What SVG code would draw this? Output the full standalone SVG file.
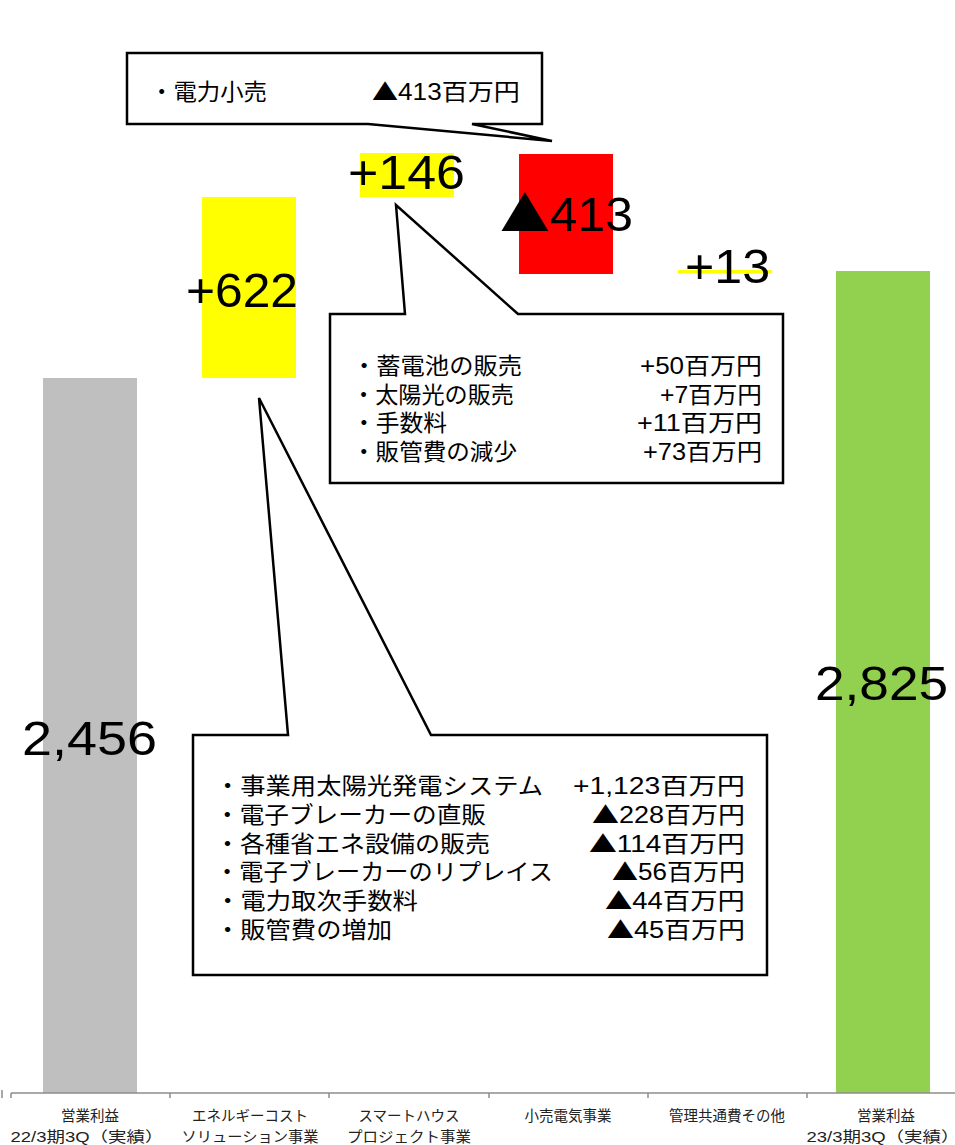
<svg xmlns="http://www.w3.org/2000/svg" width="955" height="1145" viewBox="0 0 955 1145">
<style>
.num{font-family:"Liberation Sans","DejaVu Sans",sans-serif;font-size:48px;fill:#000}
.jp{font-family:"Liberation Sans","Noto Sans CJK JP",sans-serif;font-size:23px;fill:#000}
.tri{font-family:"Noto Sans CJK JP",sans-serif}
.ax{font-family:"Liberation Sans","Noto Sans CJK JP",sans-serif;font-size:14.5px;fill:#222;text-anchor:middle}
.call{fill:#fff;stroke:#000;stroke-width:2.5;stroke-linejoin:miter}
.end{text-anchor:end}
</style>
<rect width="955" height="1145" fill="#fff"/>
<g id="bar-start"><rect x="43" y="378" width="94" height="715" fill="#bfbfbf"/><text class="num" x="22" y="755" textLength="135" lengthAdjust="spacingAndGlyphs">2,456</text></g>
<g id="bar-energy"><rect x="202" y="197" width="94" height="181" fill="#ffff00"/><text class="num" x="186" y="307" textLength="112" lengthAdjust="spacingAndGlyphs">+622</text></g>
<g id="bar-smart"><rect x="360" y="153" width="94" height="44" fill="#ffff00"/><text class="num" x="348" y="189" textLength="117" lengthAdjust="spacingAndGlyphs">+146</text></g>
<g id="bar-retail"><rect x="519" y="154" width="94" height="120" fill="#ff0000"/><text class="num" x="500" y="231" textLength="133" lengthAdjust="spacingAndGlyphs"><tspan class="tri">▲</tspan>413</text></g>
<g id="bar-common"><rect x="678" y="270" width="94" height="3.5" fill="#ffff00"/><text class="num" x="685" y="283" textLength="85" lengthAdjust="spacingAndGlyphs">+13</text></g>
<g id="bar-end"><rect x="836" y="271" width="94" height="822" fill="#92d050"/><text class="num" x="815" y="700" textLength="133" lengthAdjust="spacingAndGlyphs">2,825</text></g>
<g id="callout-retail">
<polygon class="call" points="127,53 542,53 542,124 472,124 552,141 368,124 127,124"/>
<text class="jp" x="150" y="100" textLength="117" lengthAdjust="spacingAndGlyphs">・電力小売</text>
<text class="jp end" x="520" y="100" textLength="148" lengthAdjust="spacingAndGlyphs"><tspan class="tri">▲</tspan>413百万円</text>
</g>
<g id="callout-smart">
<polygon class="call" points="330,314 405,314 396,205 518,314 783,314 783,483 330,483"/>
<text class="jp" x="352" y="374" textLength="170" lengthAdjust="spacingAndGlyphs">・蓄電池の販売</text><text class="jp end" x="762" y="374" textLength="122" lengthAdjust="spacingAndGlyphs">+50百万円</text>
<text class="jp" x="352" y="403" textLength="162" lengthAdjust="spacingAndGlyphs">・太陽光の販売</text><text class="jp end" x="762" y="403" textLength="102" lengthAdjust="spacingAndGlyphs">+7百万円</text>
<text class="jp" x="352" y="431" textLength="95" lengthAdjust="spacingAndGlyphs">・手数料</text><text class="jp end" x="762" y="431" textLength="125" lengthAdjust="spacingAndGlyphs">+11百万円</text>
<text class="jp" x="352" y="460" textLength="165" lengthAdjust="spacingAndGlyphs">・販管費の減少</text><text class="jp end" x="762" y="460" textLength="119" lengthAdjust="spacingAndGlyphs">+73百万円</text>
</g>
<g id="callout-energy">
<polygon class="call" points="193,735 288,735 259,398 431,735 767,735 767,975 193,975"/>
<text class="jp" x="215" y="794" textLength="328" lengthAdjust="spacingAndGlyphs">・事業用太陽光発電システム</text><text class="jp end" x="745" y="794" textLength="172" lengthAdjust="spacingAndGlyphs">+1,123百万円</text>
<text class="jp" x="215" y="823" textLength="271" lengthAdjust="spacingAndGlyphs">・電子ブレーカーの直販</text><text class="jp end" x="745" y="823" textLength="153" lengthAdjust="spacingAndGlyphs"><tspan class="tri">▲</tspan>228百万円</text>
<text class="jp" x="215" y="852" textLength="275" lengthAdjust="spacingAndGlyphs">・各種省エネ設備の販売</text><text class="jp end" x="745" y="852" textLength="156" lengthAdjust="spacingAndGlyphs"><tspan class="tri">▲</tspan>114百万円</text>
<text class="jp" x="215" y="880" textLength="338" lengthAdjust="spacingAndGlyphs">・電子ブレーカーのリプレイス</text><text class="jp end" x="745" y="880" textLength="133" lengthAdjust="spacingAndGlyphs"><tspan class="tri">▲</tspan>56百万円</text>
<text class="jp" x="215" y="909" textLength="203" lengthAdjust="spacingAndGlyphs">・電力取次手数料</text><text class="jp end" x="745" y="909" textLength="140" lengthAdjust="spacingAndGlyphs"><tspan class="tri">▲</tspan>44百万円</text>
<text class="jp" x="215" y="938" textLength="177" lengthAdjust="spacingAndGlyphs">・販管費の増加</text><text class="jp end" x="745" y="938" textLength="138" lengthAdjust="spacingAndGlyphs"><tspan class="tri">▲</tspan>45百万円</text>
</g>
<g id="axis" stroke="#8c8c8c" stroke-width="1.5" fill="none">
<line x1="11" y1="1093" x2="955" y2="1093"/>
<line x1="2" y1="1090" x2="2" y2="1098"/>
<line x1="11" y1="1093" x2="11" y2="1098"/>
<line x1="170" y1="1093" x2="170" y2="1098"/>
<line x1="329" y1="1093" x2="329" y2="1098"/>
<line x1="489" y1="1093" x2="489" y2="1098"/>
<line x1="648" y1="1093" x2="648" y2="1098"/>
<line x1="807" y1="1093" x2="807" y2="1098"/>
</g>
<g id="axis-labels">
<text class="ax" x="90" y="1121">営業利益</text><text class="ax" x="87" y="1142" textLength="153" lengthAdjust="spacingAndGlyphs">22/3期3Q（実績）</text>
<text class="ax" x="250" y="1121">エネルギーコスト</text><text class="ax" x="250" y="1142" textLength="137" lengthAdjust="spacingAndGlyphs">ソリューション事業</text>
<text class="ax" x="409" y="1121">スマートハウス</text><text class="ax" x="409" y="1142" textLength="124" lengthAdjust="spacingAndGlyphs">プロジェクト事業</text>
<text class="ax" x="568" y="1121">小売電気事業</text>
<text class="ax" x="727" y="1121">管理共通費その他</text>
<text class="ax" x="886" y="1121">営業利益</text><text class="ax" x="883" y="1142" textLength="153" lengthAdjust="spacingAndGlyphs">23/3期3Q（実績）</text>
</g>
</svg>
